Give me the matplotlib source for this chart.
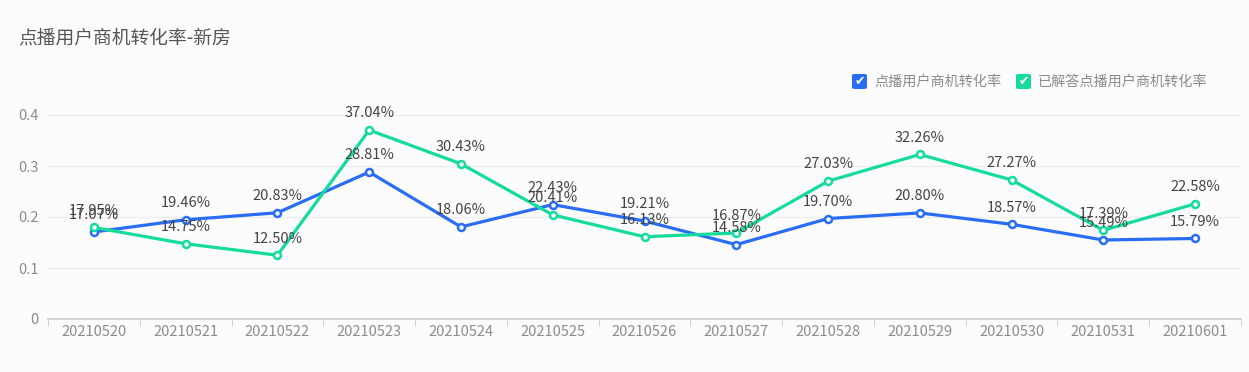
import matplotlib.pyplot as plt
from matplotlib.patches import FancyBboxPatch

plt.rcParams['font.family'] = ['Noto Sans CJK SC', 'DejaVu Sans']

dates = ['20210520', '20210521', '20210522', '20210523', '20210524', '20210525', '20210526',
         '20210527', '20210528', '20210529', '20210530', '20210531', '20210601']
rate_all = [17.07, 19.46, 20.83, 28.81, 18.06, 22.43, 19.21, 14.58, 19.70, 20.80, 18.57, 15.49, 15.79]
rate_answered = [17.95, 14.75, 12.50, 37.04, 30.43, 20.41, 16.13, 16.87, 27.03, 32.26, 27.27, 17.39, 22.58]
series_names = ['点播用户商机转化率', '已解答点播用户商机转化率']
title = '点播用户商机转化率-新房'

blue = '#2a6df5'
green = '#13dc9c'
bg = '#fcfcfc'

fig = plt.figure(figsize=(12.49, 3.72), dpi=100, facecolor=bg)
ax = fig.add_axes([48 / 1249, 1 - 319 / 372, (1241 - 48) / 1249, (319 - 115) / 372])
ax.set_facecolor(bg)

x = list(range(len(dates)))
for vals, col in [(rate_all, blue), (rate_answered, green)]:
    y = [v / 100 for v in vals]
    ax.plot(x, y, color=col, lw=2.3, marker='o', ms=5, mfc='white', mec=col, mew=1.8, zorder=3)

# value labels above each point
for vals in [rate_answered, rate_all]:
    for i, v in enumerate(vals):
        ax.annotate(f'{v:.2f}%', (i, v / 100), xytext=(0, 7), textcoords='offset points',
                    ha='center', va='bottom', fontsize=10.5, color='#444444', zorder=4)

ax.set_xlim(-0.5, len(dates) - 0.5)
ax.set_ylim(0, 0.4)
ax.set_yticks([0, 0.1, 0.2, 0.3, 0.4])
ax.set_yticklabels(['0', '0.1', '0.2', '0.3', '0.4'])
ax.set_xticks(x)
ax.set_xticklabels(dates)
ax.set_xticks([i - 0.5 for i in range(len(dates) + 1)], minor=True)
ax.tick_params(axis='x', which='major', length=0, pad=4, labelsize=10.5, labelcolor='#8c8c8c')
ax.tick_params(axis='x', which='minor', length=5, color='#cccccc', direction='out')
ax.tick_params(axis='y', length=0, pad=7, labelsize=10.5, labelcolor='#8c8c8c')

ax.grid(axis='y', color='#ededed', lw=1)
ax.set_axisbelow(True)
for s in ['top', 'right', 'left']:
    ax.spines[s].set_visible(False)
ax.spines['bottom'].set_color('#cccccc')
ax.spines['bottom'].set_linewidth(1.2)

fig.text(18 / 1249, 1 - 38 / 372, title, fontsize=13.5, color='#555555', va='center', ha='left')

# legend with check boxes
legend_items = [(852, series_names[0], blue), (1016, series_names[1], green)]
for px, name, col in legend_items:
    w, h = 15 / 1249, 15 / 372
    box = FancyBboxPatch((px / 1249, 1 - 89 / 372), w, h, boxstyle='round,pad=0,rounding_size=0.003',
                         transform=fig.transFigure, facecolor=col, edgecolor='none')
    fig.patches.append(box)
    fig.text((px + 7.5) / 1249, 1 - 81.5 / 372, '✔', fontsize=9, color='white',
             ha='center', va='center', family='DejaVu Sans')
    fig.text((px + 22) / 1249, 1 - 81.5 / 372, name, fontsize=10.2, color='#8c8c8c', ha='left', va='center')

fig.savefig('out.png', dpi=100, facecolor=bg)
